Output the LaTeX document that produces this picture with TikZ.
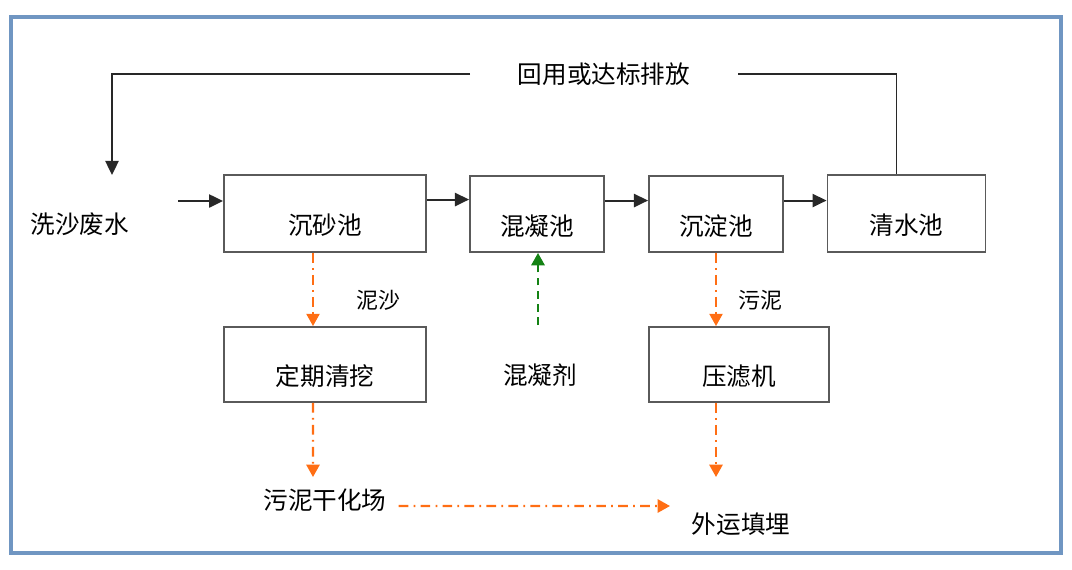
\documentclass[tikz,border=0pt]{standalone}
\usepackage{fontspec}
\setmainfont{Noto Sans CJK SC}
\usetikzlibrary{arrows.meta,calc}
\definecolor{framecol}{RGB}{112,150,194}
\definecolor{boxgray}{RGB}{90,90,90}
\definecolor{linegray}{RGB}{40,40,40}
\definecolor{mudorange}{RGB}{255,110,20}
\definecolor{dosegreen}{RGB}{20,130,20}
\tikzset{
  txt/.style={font=\fontsize{14}{16}\selectfont, inner sep=1pt},
  small/.style={font=\fontsize{12.5}{14}\selectfont, inner sep=1pt},
  box/.style={txt, draw=boxgray, line width=1.1pt, inner sep=0pt,
    text height=0.84cm, text depth=0pt},
  flow/.style={draw=linegray, line width=1.1pt, -{Triangle[length=8pt,width=7.5pt]}},
  plain/.style={draw=linegray, line width=1.1pt},
  mud/.style={draw=mudorange, line width=1.2pt,
    dash pattern=on 5.5pt off 3pt on 1pt off 3pt,
    -{Triangle[length=7pt,width=7.5pt]}},
  dose/.style={draw=dosegreen, line width=1.3pt, dash pattern=on 4.5pt off 3pt,
    -{Triangle[length=7pt,width=7.5pt]}}
}
\begin{document}
\begin{tikzpicture}[x=0.02cm, y=-0.02cm]
    \useasboundingbox (0,0) rectangle (1072,569);
    \draw[framecol, line width=1.8pt] (11,17) rectangle (1061,553);
    % basins
    \path (325,213.5) node[box, minimum width=4.04cm, minimum height=1.54cm] (csc) {沉砂池};
    \path (537,214) node[box, minimum width=2.68cm, minimum height=1.52cm] (hnc) {混凝池};
    \path (716,214) node[box, minimum width=2.68cm, minimum height=1.52cm] (cdc) {沉淀池};
    \path (906.5,213.5) node[box, minimum width=3.16cm, minimum height=1.54cm] (qsc) {清水池};
    \path (325,364.5) node[box, minimum width=4.04cm, minimum height=1.5cm] (dqqw) {定期清挖};
    \path (739,364.5) node[box, minimum width=3.6cm, minimum height=1.5cm] (ylj) {压滤机};
    % texts
    \path (80,224) node[txt] (xsfs) {洗沙废水};
    \path (604,74) node[txt, inner xsep=0.95cm] (hyqf) {回用或达标排放};
    \path (540,375) node[txt] (hnj) {混凝剂};
    \path (325,500) node[txt] (wngh) {污泥干化场};
    \path (741,524) node[txt] (wytm) {外运填埋};
    \path (378,300) node[small] (ns) {泥沙};
    \path (760,300) node[small] (wn) {污泥};
    \coordinate (xsin) at (178,201);
    \coordinate (back) at (112,175);
    \coordinate (hnin) at (538,325);
    \coordinate (ghend) at (313,477);
    \coordinate (ylend) at (716,477);
    \coordinate (wyend) at (670,506);
    % main flow
    \draw[flow] (xsin) -- (xsin -| csc.west);
    \draw[flow] ([yshift=-0.51cm]csc.north east) -- ([yshift=-0.51cm]csc.north east -| hnc.west);
    \draw[flow] ([yshift=-0.51cm]hnc.north east) -- ([yshift=-0.51cm]hnc.north east -| cdc.west);
    \draw[flow] ([yshift=-0.51cm]cdc.north east) -- ([yshift=-0.51cm]cdc.north east -| qsc.west);
    \draw[plain] ([xshift=-0.2cm]qsc.north) |- (hyqf.east);
    \draw[flow] (hyqf.west) -| (back);
    % sludge and dosing
    \draw[mud] ([xshift=-0.24cm]csc.south) -- ([xshift=-0.24cm]csc.south |- dqqw.north);
    \draw[mud] ([xshift=-0.24cm]dqqw.south) -- (ghend);
    \draw[mud] (cdc.south) -- (cdc.south |- ylj.north);
    \draw[mud] (ylj.south -| cdc.south) -- (ylend);
    \draw[mud] ([xshift=0.2cm,yshift=-0.12cm]wngh.east) -- (wyend);
    \draw[dose] (hnin) -- (hnin |- hnc.south);
\end{tikzpicture}
\end{document}
